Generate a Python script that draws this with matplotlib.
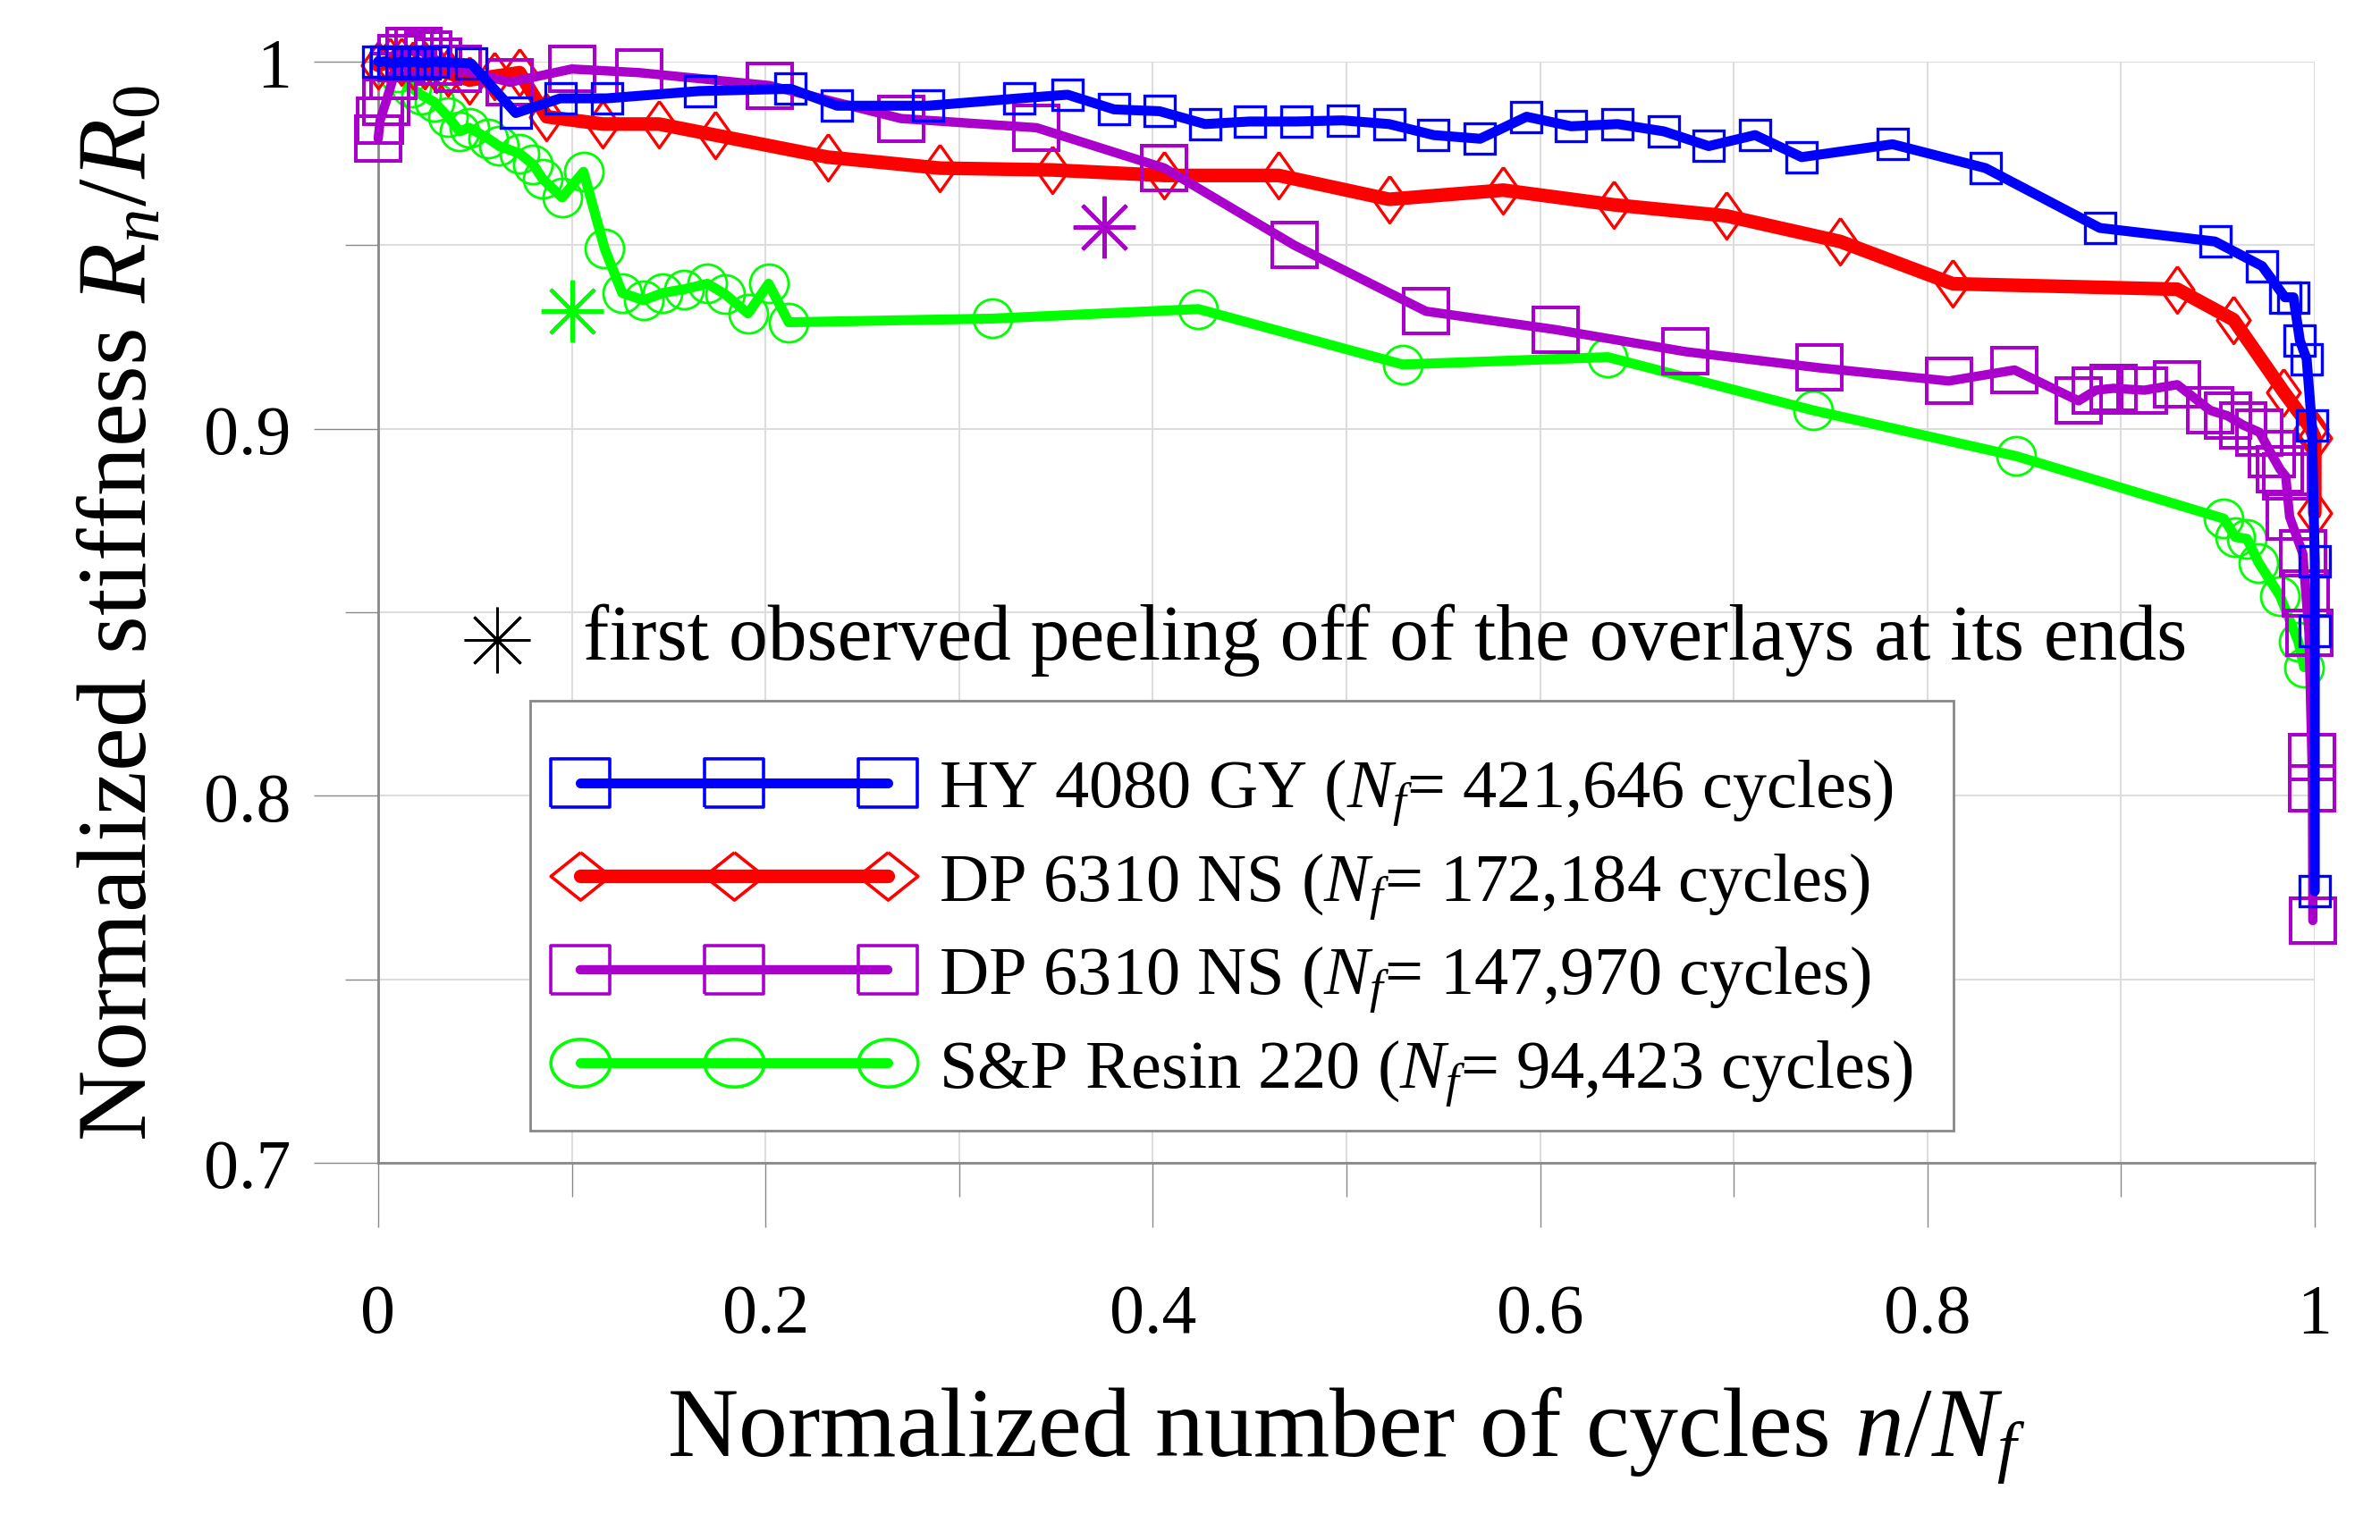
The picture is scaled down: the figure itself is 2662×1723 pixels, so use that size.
import matplotlib
matplotlib.use('Agg')
import matplotlib.pyplot as plt
from matplotlib.lines import Line2D
from matplotlib.patches import Rectangle
from matplotlib.legend_handler import HandlerLine2D
from matplotlib.ticker import MultipleLocator, FuncFormatter
import numpy as np

plt.rcParams['font.family'] = ['Liberation Serif', 'DejaVu Serif']
plt.rcParams['mathtext.fontset'] = 'custom'
plt.rcParams['mathtext.rm'] = 'Liberation Serif'
plt.rcParams['mathtext.it'] = 'Liberation Serif:italic'

# HY 4080 GY
hy_x = [0.0, 0.004, 0.008, 0.012, 0.016, 0.02, 0.024, 0.028, 0.048, 0.071, 0.094,
        0.118, 0.166, 0.213, 0.237, 0.284, 0.331, 0.356, 0.38, 0.4035, 0.427, 0.45,
        0.474, 0.498, 0.522, 0.545, 0.569, 0.593, 0.616, 0.64, 0.664, 0.687, 0.711,
        0.735, 0.782, 0.83, 0.889, 0.9485, 0.9728, 0.9846, 0.989, 0.9923, 0.9958,
        0.9985, 1.0, 1.0, 1.0]
hy_y = [1.0, 1.0, 0.9995, 1.0, 0.9998, 1.0, 0.9995, 1.0, 0.9995, 0.986, 0.990,
        0.990, 0.992, 0.9926, 0.988, 0.988, 0.990, 0.991, 0.987, 0.9865, 0.983, 0.9837,
        0.9837, 0.984, 0.983, 0.980, 0.979, 0.985, 0.9824, 0.983, 0.981, 0.977, 0.980,
        0.974, 0.9775, 0.971, 0.9547, 0.951, 0.9443, 0.9358, 0.9358, 0.924, 0.919,
        0.901, 0.8638, 0.845, 0.774]

# DP 6310 NS, Nf = 172,184
dpa_x = [0.0, 0.006, 0.012, 0.018, 0.024, 0.03, 0.036, 0.047, 0.06, 0.073, 0.087,
         0.116, 0.145, 0.174, 0.232, 0.29, 0.348, 0.406, 0.465, 0.522, 0.581, 0.638,
         0.696, 0.755, 0.813, 0.929, 0.958, 0.984, 0.998, 1.0, 1.0]
dpa_y = [0.999, 1.0, 1.0, 0.999, 0.999, 0.998, 0.997, 0.995, 0.996, 0.997, 0.985,
         0.983, 0.983, 0.980, 0.974, 0.971, 0.9705, 0.969, 0.969, 0.9625, 0.965, 0.961,
         0.958, 0.951, 0.9395, 0.938, 0.9297, 0.910, 0.900, 0.8976, 0.877]

# DP 6310 NS, Nf = 147,970
dpb_x = [0.0, 0.001, 0.004, 0.008, 0.012, 0.016, 0.021, 0.026, 0.031, 0.041, 0.068,
         0.1, 0.135, 0.202, 0.27, 0.34, 0.406, 0.473, 0.541, 0.608, 0.675, 0.744,
         0.811, 0.845, 0.878, 0.887, 0.896, 0.912, 0.929, 0.946, 0.955, 0.963, 0.9715,
         0.9777, 0.982, 0.985, 0.987, 0.9938, 0.9954, 0.997, 0.9985, 0.9988, 0.999]
dpb_y = [0.979, 0.984, 0.989, 0.996, 1.001, 1.003, 1.003, 1.002, 1.0, 0.998, 0.9944,
         0.998, 0.997, 0.9935, 0.9845, 0.982, 0.971, 0.950, 0.932, 0.927, 0.921, 0.9166,
         0.913, 0.916, 0.9076, 0.9105, 0.911, 0.9105, 0.912, 0.905, 0.9035, 0.901, 0.899,
         0.893, 0.889, 0.887, 0.876, 0.866, 0.855, 0.8445, 0.8106, 0.802, 0.766]

# S&P Resin 220
sp_x = [0.01, 0.017, 0.022, 0.029, 0.036, 0.042, 0.047, 0.057, 0.0625, 0.073, 0.08,
        0.085, 0.095, 0.106, 0.117, 0.126, 0.137, 0.147, 0.158, 0.17, 0.179, 0.191,
        0.2016, 0.212, 0.317, 0.4235, 0.529, 0.635, 0.741, 0.846, 0.953, 0.959, 0.965,
        0.971, 0.982, 0.9915, 0.9945]
sp_y = [0.997, 0.993, 0.991, 0.989, 0.985, 0.981, 0.982, 0.979, 0.977, 0.975, 0.972,
        0.968, 0.963, 0.970, 0.949, 0.937, 0.935, 0.937, 0.938, 0.9395, 0.9367, 0.9314,
        0.9395, 0.929, 0.930, 0.9326, 0.9175, 0.9195, 0.905, 0.8925, 0.8755, 0.8705, 0.870,
        0.8635, 0.8545, 0.842, 0.835]

# first observed peeling (green and violet specimens)
peel_x = [0.1, 0.375]
peel_y = [0.932, 0.955]

labels = [r'HY 4080 GY ($N_f$= 421,646 cycles)',
          r'DP 6310 NS ($N_f$= 172,184 cycles)',
          r'DP 6310 NS ($N_f$= 147,970 cycles)',
          r'S&P Resin 220 ($N_f$= 94,423 cycles)']
note = 'first observed peeling off of the overlays at its ends'

blue, red, violet, green = '#0000ff', '#ff0000', '#aa00cc', '#00ff00'
diamond = [(0, 1), (0.71, 0), (0, -1), (-0.71, 0), (0, 1)]
asterisk = (8, 2, 0)
# legend marks are drawn wider than tall
t = np.linspace(0, 2 * np.pi, 60)
wide_circle = list(zip(np.cos(t), 0.8 * np.sin(t)))
wide_square = [(-1, -0.8), (1, -0.8), (1, 0.8), (-1, 0.8), (-1, -0.8)]
wide_diamond = [(0, 0.8), (1, 0), (0, -0.8), (-1, 0), (0, 0.8)]

fig = plt.figure(figsize=(26.62, 17.24), dpi=100)
ax = fig.add_axes([0.1589, 0.2448, 0.8137, 0.7146])

common = dict(mfc='none', clip_on=False, solid_joinstyle='round', solid_capstyle='round')
ax.plot(sp_x, sp_y, color=green, lw=8, marker='o', ms=31, mew=2, zorder=2, **common)
ax.plot(dpa_x, dpa_y, color=red, lw=11, marker=diamond, ms=37.5, mew=2.4, zorder=3, **common)
ax.plot(dpb_x, dpb_y, color=violet, lw=7.5, marker='s', ms=36, mew=2.9, zorder=4, **common)
ax.plot(hy_x, hy_y, color=blue, lw=8, marker='s', ms=24, mew=2.4, zorder=5, **common)
ax.plot(peel_x[0], peel_y[0], ls='none', marker=asterisk, ms=50, mew=3, color=green, zorder=6)
ax.plot(peel_x[1], peel_y[1], ls='none', marker=asterisk, ms=50, mew=3, color=violet, zorder=6)

# note line with black asterisk
ax.plot([0.0614], [0.475], transform=ax.transAxes, marker=asterisk, ms=53, mew=2,
        color='k', ls='none')
ax.text(0.1057, 0.475, note, transform=ax.transAxes, va='center', ha='left', fontsize=63)

ax.set_xlim(0, 1)
ax.set_ylim(0.7, 1.0)
ax.xaxis.set_major_locator(MultipleLocator(0.2))
ax.xaxis.set_minor_locator(MultipleLocator(0.1))
ax.yaxis.set_major_locator(MultipleLocator(0.1))
ax.yaxis.set_minor_locator(MultipleLocator(0.05))
fmt = FuncFormatter(lambda v, p: '%g' % round(v, 3))
ax.xaxis.set_major_formatter(fmt)
ax.yaxis.set_major_formatter(fmt)

ax.grid(which='both', color='#dddddd', lw=1.5)
ax.set_axisbelow(True)
for s in ['top', 'right']:
    ax.spines[s].set_visible(False)
for s in ['left', 'bottom']:
    ax.spines[s].set_color('#888888')
    ax.spines[s].set_linewidth(2)
ax.tick_params(which='major', length=52, width=1, color='#888888', labelsize=56)
ax.tick_params(which='minor', length=27, width=1, color='#888888')
ax.tick_params(axis='y', which='major', pad=18)
ax.tick_params(axis='x', which='major', pad=45)

ax.set_xlabel(r'Normalized number of cycles $n/N_f$', fontsize=79, labelpad=30)
ax.set_ylabel(r'Normalized stiffness $R_n/R_0$', fontsize=79, labelpad=30)

# legend box
ax.add_patch(Rectangle((0.0785, 0.0292), 0.735, 0.3904, transform=ax.transAxes,
                       facecolor='white', edgecolor='#888888', lw=2, zorder=7))
styles = [(blue, wide_square, 8), (red, wide_diamond, 11),
          (violet, wide_square, 7.5), (green, wide_circle, 8)]
handles = [Line2D([], [], color=c, lw=lw, marker=m, ms=48, mfc='none', mew=2.6,
                  solid_capstyle='round')
           for c, m, lw in styles]
leg = ax.legend(handles, labels, loc='upper left', bbox_to_anchor=(0.1043, 0.3686),
                borderaxespad=0, borderpad=0, numpoints=3, handlelength=4.5,
                handletextpad=0.75, labelspacing=0.33, fontsize=55, frameon=False,
                handler_map={Line2D: HandlerLine2D(marker_pad=0)})
leg.set_zorder(8)

fig.savefig('out.png', dpi=100)
